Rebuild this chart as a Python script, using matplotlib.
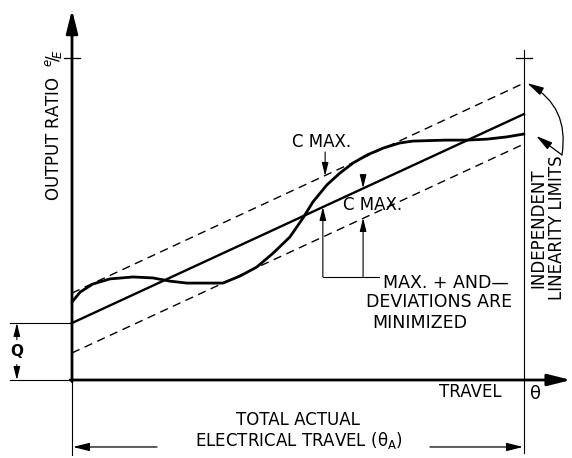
import matplotlib
matplotlib.use("Agg")
from matplotlib import pyplot as plt

plt.rcParams['font.family'] = ['DejaVu Sans']

# normalised travel (0 = start, 1 = total actual electrical travel)
travel = [0, 0.018, 0.046, 0.084, 0.135, 0.179, 0.217, 0.254, 0.290, 0.334,
          0.372, 0.409, 0.445, 0.482, 0.511, 0.533, 0.564, 0.593, 0.622,
          0.653, 0.688, 0.725, 0.754, 0.827, 0.874, 0.918, 0.962, 1.0]
# actual output ratio e/E of the device
output_ratio = [0.242, 0.273, 0.298, 0.314, 0.320, 0.317, 0.307, 0.301, 0.301,
                0.301, 0.323, 0.351, 0.394, 0.444, 0.503, 0.553, 0.606, 0.643,
                0.674, 0.699, 0.720, 0.736, 0.742, 0.745, 0.745, 0.748, 0.755,
                0.764]

# best straight line and the independent linearity limits around it
fit_x = [0, 1]
fit_y = [0.177, 0.826]
upper_y = [0.270, 0.922]
lower_y = [0.084, 0.733]
q_level = 0.177

fig = plt.figure(figsize=(5.72, 4.58), dpi=100)
ax = fig.add_axes([72 / 572, 78 / 458, 452 / 572, 322 / 458])
ax.set_xlim(0, 1)
ax.set_ylim(0, 1)
ax.axis('off')

k = dict(color='black', clip_on=False)


def arrow(tip, tail, style, lw, **extra):
    ax.annotate('', xy=tip, xytext=tail, annotation_clip=False,
                arrowprops=dict(arrowstyle=style, color='black', lw=lw,
                                shrinkA=0, shrinkB=0, **extra))


big = '-|>,head_length=1.4,head_width=0.35'
thin = '-|>,head_length=1.0,head_width=0.25'
small = '-|>,head_length=0.8,head_width=0.2'

# curves
ax.plot(travel, output_ratio, lw=2.0, solid_capstyle='round',
        solid_joinstyle='round', **k)
ax.plot(fit_x, fit_y, lw=1.7, **k)
ax.plot(fit_x, upper_y, lw=1.0, dashes=(6, 4), **k)
ax.plot(fit_x, lower_y, lw=1.0, dashes=(6, 4), **k)

# axes with arrows
arrow((0, 1.15), (0, -0.005), big, 2)
arrow((1.104, 0), (-0.004, 0), big, 2)
ax.plot([-0.018, 0.018], [1, 1], lw=0.9, **k)

# right limit line and ticks
ax.plot([1, 1], [1.025, -0.227], lw=0.8, **k)
ax.plot([0.982, 1.018], [1, 1], lw=0.9, **k)
ax.plot([0, 0], [0, -0.233], lw=0.8, **k)

# total electrical travel dimension
arrow((0.002, -0.208), (0.188, -0.208), thin, 0.9)
arrow((0.998, -0.208), (0.792, -0.208), thin, 0.9)
ax.text(0.500, -0.124, 'TOTAL ACTUAL', ha='center', va='center', fontsize=12)
ax.text(0.503, -0.189, 'ELECTRICAL TRAVEL (\u03b8$_\\mathregular{A}$)',
        ha='center', va='center', fontsize=12)

ax.text(0.881, -0.037, 'TRAVEL', ha='center', va='center', fontsize=12)
ax.text(1.026, -0.042, '\u03b8', ha='center', va='center', fontsize=13)

# Q dimension
ax.plot([-0.137, 0], [q_level, q_level], lw=0.8, **k)
ax.plot([-0.137, 0], [0, 0], lw=0.8, **k)
arrow((-0.122, q_level), (-0.122, 0.125), small, 0.8)
arrow((-0.122, 0), (-0.122, 0.048), small, 0.8)
ax.text(-0.122, 0.090, 'Q', ha='center', va='center', fontsize=11,
        fontweight='bold')

# y label
ax.text(-0.040, 0.79, r'OUTPUT RATIO  $^{e}\!/\!_{E}$', rotation=90,
        ha='center', va='center', fontsize=12)

# independent linearity limits
ax.text(1.053, 0.472, 'INDEPENDENT\nLINEARITY LIMITS', rotation=90,
        ha='center', va='center', fontsize=12, linespacing=1.05)
arrow((1.007, 0.922), (1.084, 0.699), thin, 0.9,
      connectionstyle='arc3,rad=0.35')
arrow((1.027, 0.758), (1.084, 0.699), thin, 0.9)

# C MAX annotations
ax.text(0.553, 0.739, 'C MAX.', ha='center', va='center', fontsize=12)
arrow((0.560, 0.634), (0.560, 0.708), small, 0.8)

ax.text(0.664, 0.543, 'C MAX.', ha='center', va='center', fontsize=12)
arrow((0.644, 0.596), (0.644, 0.637), small, 0.8)
arrow((0.644, 0.503), (0.644, 0.320), small, 0.8)
arrow((0.555, 0.537), (0.555, 0.320), small, 0.8)
ax.plot([0.555, 0.680], [0.320, 0.320], lw=0.8, **k)

ax.text(0.688, 0.301, 'MAX. + AND\u2014', ha='left', va='center', fontsize=12.5)
ax.text(0.650, 0.242, 'DEVIATIONS ARE', ha='left', va='center', fontsize=12.5)
ax.text(0.665, 0.177, 'MINIMIZED', ha='left', va='center', fontsize=12.5)

plt.savefig('out.png', dpi=100)
